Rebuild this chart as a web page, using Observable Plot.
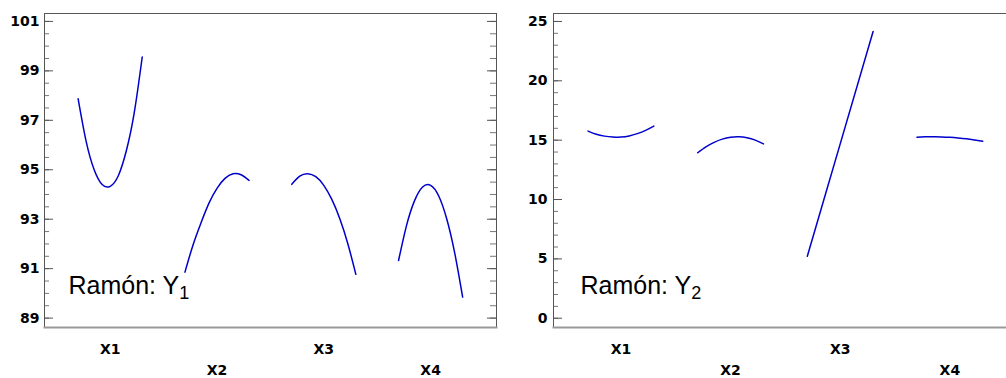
<!DOCTYPE html>
<html><head><meta charset="utf-8">
<script src="https://cdn.jsdelivr.net/npm/d3@7"></script>
<script src="https://cdn.jsdelivr.net/npm/@observablehq/plot@0.6"></script>
<style>
html,body{margin:0;padding:0;background:#fff;overflow:hidden}
#chart{position:relative;width:1006px;height:378px;overflow:hidden;background:#fff}
#chart svg{position:absolute;top:0;max-width:none}
</style></head><body><div id="chart"></div>
<script>
// Factors and coded levels
const factors = ["X1", "X2", "X3", "X4"];
const levels = [-1, -0.75, -0.5, -0.25, 0, 0.25, 0.5, 0.75, 1];
const levelsLinear = [-1, 0, 1];

// Response Y1 (left panel)
const y1X1 = [97.87, 96.15, 95.0, 94.4, 94.33, 94.75, 95.75, 97.3, 99.56];
const y1X2 = [90.86, 91.95, 92.85, 93.65, 94.25, 94.65, 94.84, 94.8, 94.57];
const y1X3 = [94.41, 94.74, 94.84, 94.72, 94.37, 93.8, 93.02, 92.01, 90.77];
const y1X4 = [91.33, 92.75, 93.75, 94.3, 94.37, 93.95, 93.03, 91.65, 89.85];

// Response Y2 (right panel)
const y2X1 = [15.76, 15.5, 15.34, 15.26, 15.27, 15.36, 15.55, 15.82, 16.18];
const y2X2 = [13.94, 14.44, 14.82, 15.09, 15.24, 15.28, 15.2, 15.0, 14.69];
const y2X3 = [5.22, 14.69, 24.16];
const y2X4 = [15.25, 15.28, 15.28, 15.27, 15.24, 15.19, 15.12, 15.02, 14.91];

// Tick labels
const y1Ticks = [89, 91, 93, 95, 97, 99, 101];
const y2Ticks = [0, 5, 10, 15, 20, 25];
const titleText = "Ramón: Y";
const subscripts = ["1", "2"];

const halfSpan = 0.3; // width of each factor's segment (in factor units)

function buildRows(series) {
  return series.flatMap(([lv, vals], i) =>
    vals.map((v, j) => ({factor: factors[i], pos: i + 1 + halfSpan * lv[j], value: v})));
}

function panel({series, yDomain, major, minor, width, marginLeft, marginRight, tickPadding, titleDx, sub, left}) {
  const height = 378, marginTop = 13, marginBottom = 51;
  const fw = width - marginLeft - marginRight;
  const data = buildRows(series);
  const bold = {fontSize: 14, fontWeight: "bold", fill: "#000", fontFamily: "'DejaVu Sans', Verdana, sans-serif"};
  const p = Plot.plot({
    width, height, marginLeft, marginRight, marginTop, marginBottom,
    style: {fontFamily: "'Liberation Sans', Arial, sans-serif", background: "white"},
    x: {domain: [0.385, 4.617]},
    y: {domain: yDomain},
    marks: [
      Plot.tickY(minor, {insetRight: fw - 5, stroke: "#777"}),
      Plot.tickY(minor, {insetLeft: fw - 6, stroke: "#777"}),
      Plot.tickY(major, {insetRight: fw - 9, stroke: "#555"}),
      Plot.tickY(major, {insetLeft: fw - 9, stroke: "#555"}),
      Plot.frame({stroke: "#555"}),
      Plot.frame({anchor: "bottom", stroke: "#999", strokeWidth: 2}),
      Plot.axisY({ticks: major, tickSize: 0, tickPadding, label: null, ...bold}),
      Plot.axisX({ticks: [1, 3], tickSize: 0, tickPadding: 17, label: null, tickFormat: d => factors[d - 1], ...bold}),
      Plot.axisX({ticks: [2, 4], tickSize: 0, tickPadding: 38, label: null, tickFormat: d => factors[d - 1], ...bold}),
      Plot.line(data, {x: "pos", y: "value", z: "factor", stroke: "#0000cc", strokeWidth: 1.5, curve: "natural"}),
      Plot.text([titleText], {frameAnchor: "bottom-left", textAnchor: "start", lineAnchor: "bottom",
        dx: titleDx, dy: -33.4, fontSize: 25, fill: "#000"})
    ]
  });
  p.style.left = left + "px";
  const t = Array.from(p.querySelectorAll("text")).find(e => e.textContent === titleText);
  if (t) d3.select(t).append("tspan").attr("font-size", 18).attr("dy", 5).text(sub);
  return p;
}

const chart = document.getElementById("chart");
chart.append(panel({
  series: [[levels, y1X1], [levels, y1X2], [levels, y1X3], [levels, y1X4]],
  yDomain: [88.62, 101.32], major: y1Ticks, minor: d3.range(89, 101.01, 0.5),
  width: 503, marginLeft: 44, marginRight: 7, tickPadding: 5, titleDx: 24, sub: subscripts[0], left: 0
}));
chart.append(panel({
  series: [[levels, y2X1], [levels, y2X2], [levelsLinear, y2X3], [levels, y2X4]],
  yDomain: [-0.78, 25.67], major: y2Ticks, minor: d3.range(0, 25.01, 1),
  width: 520, marginLeft: 50, marginRight: 6, tickPadding: 6, titleDx: 27, sub: subscripts[1], left: 503
}));
</script>
</body></html>
